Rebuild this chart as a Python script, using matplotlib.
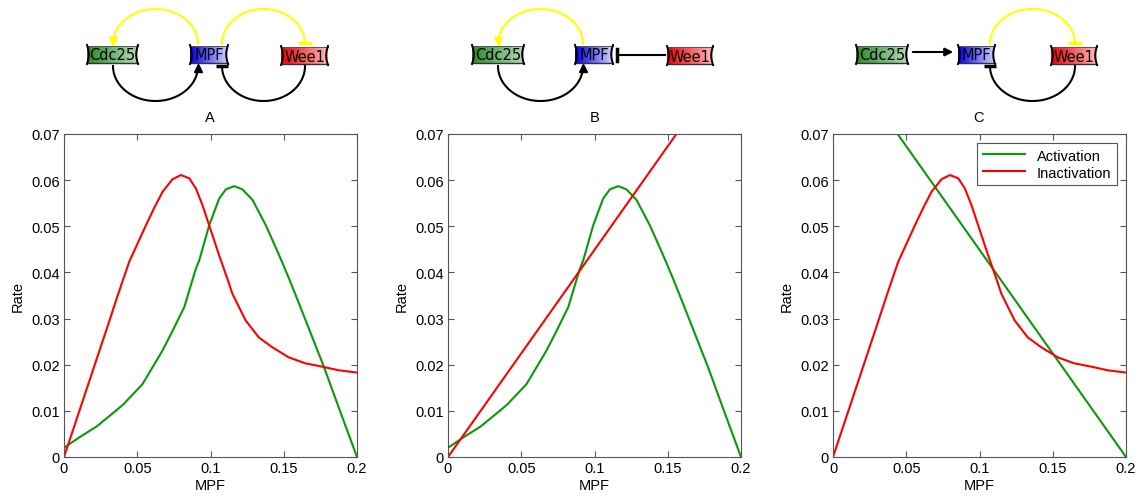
import numpy as np
import matplotlib
matplotlib.use("Agg")
import matplotlib.pyplot as plt

plt.rcParams['font.family'] = ['Liberation Sans', 'DejaVu Sans']

# rate curves (MPF vs rate)
act_x = [0, 0.0102, 0.0222, 0.033, 0.0405, 0.0536, 0.0671, 0.0739, 0.0821, 0.09,
         0.0923, 0.0991, 0.1059, 0.1105, 0.1162, 0.1218, 0.1287, 0.1378, 0.1469,
         0.1537, 0.16, 0.1647, 0.1771, 0.1885, 0.2]
act_y = [0.002, 0.0042, 0.0066, 0.0094, 0.0114, 0.0158, 0.023, 0.0272, 0.0325, 0.0408,
         0.0426, 0.0502, 0.056, 0.058, 0.0587, 0.058, 0.0557, 0.0502, 0.0437,
         0.0386, 0.0336, 0.0298, 0.0198, 0.0099, 0.0]

inact_x = [0, 0.0105, 0.021, 0.0315, 0.0359, 0.0445, 0.0559, 0.0616, 0.0673, 0.0741,
           0.0798, 0.0855, 0.09, 0.0945, 0.0991, 0.1059, 0.1123, 0.1149, 0.124,
           0.133, 0.1421, 0.1534, 0.1647, 0.176, 0.1873, 0.2]
inact_y = [0, 0.01, 0.02, 0.03, 0.0343, 0.0423, 0.0502, 0.054, 0.0575, 0.0602,
           0.0611, 0.0604, 0.0582, 0.0546, 0.0502, 0.0437, 0.0379, 0.0354, 0.0296,
           0.0259, 0.0238, 0.0216, 0.0203, 0.0196, 0.0188, 0.0183]

# straight lines in panels B (inactivation) and C (activation)
lin_x = [0, 0.2]
inact_lin_y = [0, 0.0898]
act_lin_y = [0.0898, 0]

xticks = [0, 0.05, 0.1, 0.15, 0.2]
xticklabels = ['0', '0.05', '0.1', '0.15', '0.2']
yticks = [0, 0.01, 0.02, 0.03, 0.04, 0.05, 0.06, 0.07]
yticklabels = ['0', '0.01', '0.02', '0.03', '0.04', '0.05', '0.06', '0.07']
panel_labels = ['A', 'B', 'C']

green = '#0a990a'
red = '#ff0000'
W, H = 1141, 502

fig = plt.figure(figsize=(W / 100, H / 100), dpi=100)

# overlay axes in pixel coordinates for the network diagrams
dg = fig.add_axes([0, 0, 1, 1])
dg.set_xlim(0, W)
dg.set_ylim(H, 0)
dg.axis('off')


def node(x0, x1, y0, y1, text, dark, light):
    c0 = np.array(matplotlib.colors.to_rgb(dark))
    c1 = np.array(matplotlib.colors.to_rgb(light))
    t = np.linspace(0, 1, 64)[None, :, None]
    img = c0 * (1 - t) + c1 * t
    dg.imshow(img, extent=(x0, x1, y1, y0), aspect='auto', zorder=2)
    dg.plot([x0, x1], [y0, y0], color='#555555', lw=0.7, zorder=3)
    dg.plot([x0, x1], [y1, y1], color='#333333', lw=1.0, zorder=3)
    yy = np.linspace(y0 - 1, y1 + 1, 20)
    bow = 1.8 * np.sin(np.linspace(0, np.pi, 20))
    dg.plot(x0 + bow, yy, color='black', lw=1.4, zorder=3)
    dg.plot(x1 - bow, yy, color='black', lw=1.4, zorder=3)
    dg.text((x0 + x1) / 2, (y0 + y1) / 2 + 0.5, text, ha='center', va='center',
            fontsize=10.5, family='DejaVu Sans', zorder=4)


def arc(xa, xb, y, depth, color, up=True):
    t = np.linspace(np.pi, 0, 80)
    xs = (xa + xb) / 2 + (xb - xa) / 2 * np.cos(t)
    ys = y - depth * np.sin(t) if up else y + depth * np.sin(t)
    dg.plot(xs, ys, color=color, lw=1.5, zorder=1)


def tbar(x, y, w, color):
    dg.plot([x - w / 2, x + w / 2], [y, y], color=color, lw=2.5, solid_capstyle='butt')


nodes = [
    (87, 138, (190, 228), (281, 328)),
    (472, 524, (575, 613), (667, 713)),
    (856, 908, (958, 995), (1051, 1097)),
]
for cx0, cx1, mpf, wee in nodes:
    node(cx0, cx1, 47, 64, 'Cdc25', '#2f8a2f', '#b0dcb0')
    node(mpf[0], mpf[1], 47, 64, 'MPF', '#0000ee', '#d2d2ff')
    node(wee[0], wee[1], 48, 65, 'Wee1', '#ee0000', '#ffb8b8')

# panel A
arc(113, 198, 45, 35, '#ffff00')
dg.plot(113, 42, marker='v', color='#ffff00', ms=6, zorder=5)
arc(222, 305, 45, 35, '#ffff00')
tbar(305, 44, 14, '#ffff00')
arc(113, 198, 67, 35, 'black', up=False)
dg.plot(198, 69, marker='^', color='black', ms=6, zorder=5)
arc(222, 305, 67, 35, 'black', up=False)
tbar(222, 67, 12, 'black')

# panel B
arc(498, 583, 45, 35, '#ffff00')
dg.plot(498, 42, marker='v', color='#ffff00', ms=6, zorder=5)
arc(498, 583, 67, 35, 'black', up=False)
dg.plot(583, 69, marker='^', color='black', ms=6, zorder=5)
dg.plot([617, 665], [56, 56], color='black', lw=1.5)
dg.plot([617, 617], [50, 62], color='black', lw=2.5)

# panel C
dg.annotate('', xy=(956, 53), xytext=(910, 53),
            arrowprops=dict(arrowstyle='-|>', color='black', lw=1.5, mutation_scale=12))
arc(990, 1075, 45, 35, '#ffff00')
tbar(1075, 44, 14, '#ffff00')
arc(990, 1075, 67, 35, 'black', up=False)
tbar(990, 67, 12, 'black')

for lab, xc in zip(panel_labels, [210, 595, 978]):
    dg.text(xc, 118, lab, ha='center', va='center', fontsize=10.5)

# rate plots
lefts = [64, 448, 833]
series = [
    (act_x, act_y, inact_x, inact_y),
    (act_x, act_y, lin_x, inact_lin_y),
    (lin_x, act_lin_y, inact_x, inact_y),
]
for i, (left, (ax_, ay_, ix_, iy_)) in enumerate(zip(lefts, series)):
    ax = fig.add_axes([left / W, (H - 458) / H, 293 / W, 323 / H])
    ax.plot(ax_, ay_, color=green, lw=1.5, label='Activation')
    ax.plot(ix_, iy_, color=red, lw=1.5, label='Inactivation')
    ax.set_xlim(0, 0.2)
    ax.set_ylim(0, 0.07)
    ax.set_xticks(xticks)
    ax.set_xticklabels(xticklabels)
    ax.set_yticks(yticks)
    ax.set_yticklabels(yticklabels)
    ax.tick_params(direction='in', top=True, right=True, length=4, width=0.8,
                   color='#555555', labelsize=10.5, pad=3)
    for s in ax.spines.values():
        s.set_color('#555555')
        s.set_linewidth(0.8)
    ax.set_xlabel('MPF', fontsize=10.5, labelpad=2)
    ax.set_ylabel('Rate', fontsize=10.5, labelpad=5)
    if i == 2:
        leg = ax.legend(loc='upper right', fontsize=10.5, fancybox=False,
                        framealpha=1, edgecolor='#555555', handlelength=2.9,
                        borderaxespad=0.6, borderpad=0.4, labelspacing=0.2)
        leg.get_frame().set_linewidth(0.8)

fig.savefig('out.png', dpi=100)
